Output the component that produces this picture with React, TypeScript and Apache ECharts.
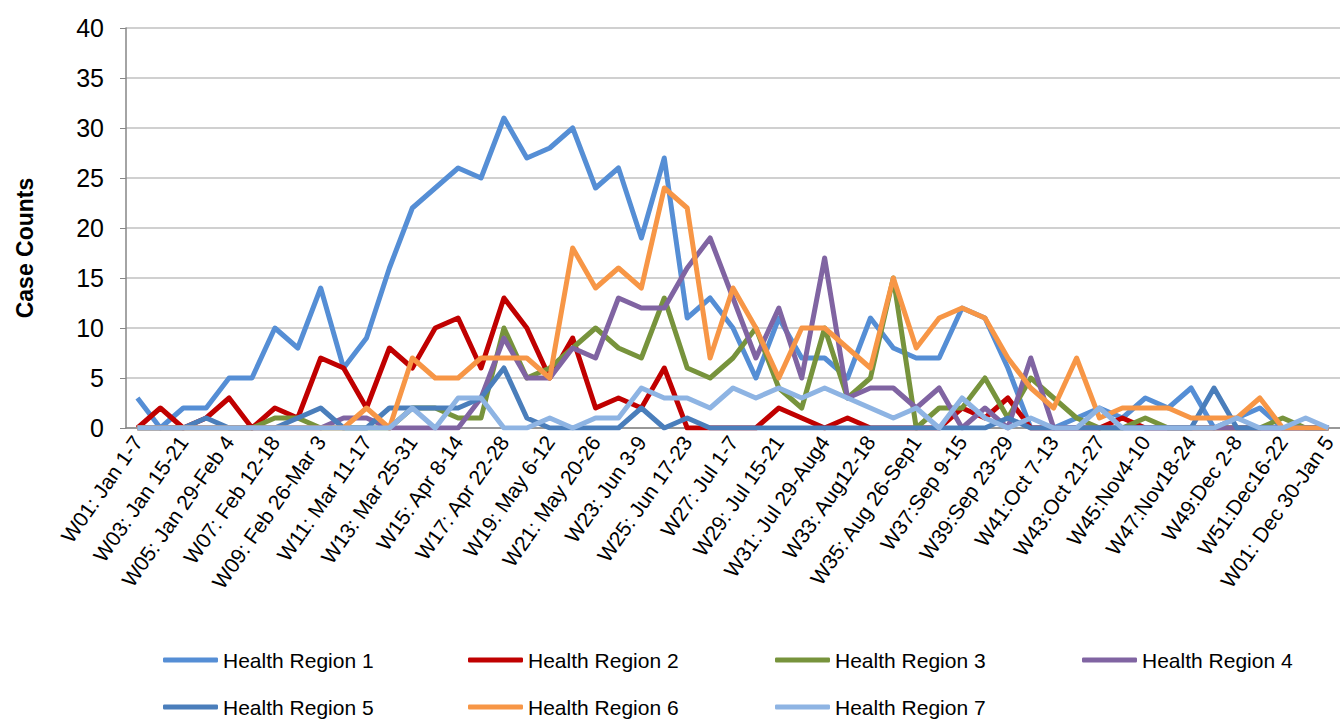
import React, { useEffect, useRef } from "react";
import * as echarts from "echarts";

const weeks = [
  "W01: Jan 1-7", "W02: Jan 8-14", "W03: Jan 15-21", "W04: Jan 22-28", "W05: Jan 29-Feb 4",
  "W06: Feb 5-11", "W07: Feb 12-18", "W08: Feb 19-25", "W09: Feb 26-Mar 3", "W10: Mar 4-10",
  "W11: Mar 11-17", "W12: Mar 18-24", "W13: Mar 25-31", "W14: Apr 1-7", "W15: Apr 8-14",
  "W16: Apr 15-21", "W17: Apr 22-28", "W18: Apr 29-May 5", "W19: May 6-12", "W20: May 13-19",
  "W21: May 20-26", "W22: May 27-Jun 2", "W23: Jun 3-9", "W24: Jun 10-16", "W25: Jun 17-23",
  "W26: Jun 24-30", "W27: Jul 1-7", "W28: Jul 8-14", "W29: Jul 15-21", "W30: Jul 22-28",
  "W31: Jul 29-Aug4", "W32: Aug 5-11", "W33: Aug12-18", "W34: Aug 19-25", "W35: Aug 26-Sep1",
  "W36: Sep 2-8", "W37:Sep 9-15", "W38:Sep 16-22", "W39:Sep 23-29", "W40:Sep 30-Oct 6",
  "W41:Oct 7-13", "W42:Oct 14-20", "W43:Oct 21-27", "W44:Oct 28-Nov3", "W45:Nov4-10",
  "W46:Nov11-17", "W47:Nov18-24", "W48:Nov25-Dec1", "W49:Dec 2-8", "W50:Dec 9-15",
  "W51:Dec16-22", "W52:Dec 23-29", "W01: Dec 30-Jan 5",
];

const region1 = [3, 0, 2, 2, 5, 5, 10, 8, 14, 6, 9, 16, 22, 24, 26, 25, 31, 27, 28, 30, 24, 26, 19, 27, 11, 13, 10, 5, 11, 7, 7, 5, 11, 8, 7, 7, 12, 11, 6, 0, 0, 1, 2, 1, 3, 2, 4, 0, 1, 2, 0, 0, 0];
const region2 = [0, 2, 0, 1, 3, 0, 2, 1, 7, 6, 2, 8, 6, 10, 11, 6, 13, 10, 5, 9, 2, 3, 2, 6, 0, 0, 0, 0, 2, 1, 0, 1, 0, 0, 0, 0, 2, 1, 3, 0, 0, 0, 0, 1, 0, 0, 0, 0, 0, 0, 0, 0, 0];
const region3 = [0, 0, 0, 0, 0, 0, 1, 1, 0, 0, 0, 0, 2, 2, 1, 1, 10, 5, 6, 8, 10, 8, 7, 13, 6, 5, 7, 10, 4, 2, 10, 3, 5, 15, 0, 2, 2, 5, 1, 5, 3, 1, 0, 0, 1, 0, 0, 0, 0, 0, 1, 0, 0];
const region4 = [0, 0, 0, 0, 0, 0, 0, 0, 0, 1, 1, 0, 0, 0, 0, 3, 9, 5, 5, 8, 7, 13, 12, 12, 16, 19, 13, 7, 12, 5, 17, 3, 4, 4, 2, 4, 0, 2, 0, 7, 0, 0, 0, 0, 0, 0, 0, 0, 0, 0, 0, 0, 0];
const region5 = [0, 0, 0, 1, 0, 0, 0, 1, 2, 0, 0, 2, 2, 2, 2, 3, 6, 1, 0, 0, 0, 0, 2, 0, 1, 0, 0, 0, 0, 0, 0, 0, 0, 0, 0, 0, 0, 0, 1, 0, 0, 0, 0, 0, 0, 0, 0, 4, 0, 0, 0, 0, 0];
const region6 = [0, 0, 0, 0, 0, 0, 0, 0, 0, 0, 2, 0, 7, 5, 5, 7, 7, 7, 5, 18, 14, 16, 14, 24, 22, 7, 14, 10, 5, 10, 10, 8, 6, 15, 8, 11, 12, 11, 7, 4, 2, 7, 1, 2, 2, 2, 1, 1, 1, 3, 0, 0, 0];
const region7 = [0, 0, 0, 0, 0, 0, 0, 0, 0, 0, 0, 0, 2, 0, 3, 3, 0, 0, 1, 0, 1, 1, 4, 3, 3, 2, 4, 3, 4, 3, 4, 3, 2, 1, 2, 0, 3, 1, 0, 1, 0, 0, 2, 0, 0, 0, 0, 0, 1, 0, 0, 1, 0];

const seriesNames = [
  "Health Region 1", "Health Region 2", "Health Region 3", "Health Region 4",
  "Health Region 5", "Health Region 6", "Health Region 7",
];
const seriesData = [region1, region2, region3, region4, region5, region6, region7];
const seriesColors = ["#558ED5", "#C00000", "#77933C", "#8064A2", "#4A7EBB", "#F79646", "#8EB4E3"];
const yTicks = { min: 0, max: 40, interval: 5 };
const yTitle = "Case Counts";

const FONT = "'Liberation Sans', Arial, sans-serif";

export default function App() {
  const ref = useRef<HTMLDivElement>(null);
  useEffect(() => {
    if (!ref.current) return;
    const chart = echarts.init(ref.current, undefined, { renderer: "svg" });
    const legendPos = [
      [163, 647], [468, 647], [775, 647], [1082, 647],
      [163, 694], [468, 694], [775, 694],
    ];
    chart.setOption({
      animation: false,
      backgroundColor: "#ffffff",
      textStyle: { fontFamily: FONT },
      grid: { left: 126, right: -16, top: 28, bottom: 291, containLabel: false },
      graphic: [
        {
          type: "text",
          x: 25,
          y: 248,
          rotation: Math.PI / 2,
          style: {
            text: yTitle,
            fontFamily: FONT,
            fontSize: 23,
            fontWeight: "bold",
            fill: "#000",
            align: "center",
            verticalAlign: "middle",
          },
        },
      ],
      legend: seriesNames.map((n, i) => ({
        data: [n],
        left: legendPos[i][0],
        top: legendPos[i][1],
        padding: 0,
        icon: "roundRect",
        itemWidth: 55,
        itemHeight: 5,
        textStyle: { fontFamily: FONT, fontSize: 21, color: "#000", lineHeight: 26 },
      })),
      xAxis: {
        type: "category",
        data: weeks,
        boundaryGap: true,
        axisLine: { lineStyle: { color: "#868686", width: 1.5 } },
        axisTick: { show: false },
        axisLabel: {
          interval: 1,
          rotate: 55,
          fontSize: 21,
          color: "#000",
          fontFamily: FONT,
          margin: 10,
        },
      },
      yAxis: {
        type: "value",
        min: yTicks.min,
        max: yTicks.max,
        interval: yTicks.interval,
        axisLine: { show: true, lineStyle: { color: "#868686", width: 1.5 } },
        axisTick: { show: true, length: 6, lineStyle: { color: "#868686" } },
        axisLabel: { fontSize: 25, color: "#000", fontFamily: FONT, margin: 22 },
        splitLine: { lineStyle: { color: "#C0C0C0", width: 1.5 } },
      },
      series: seriesNames.map((n, i) => ({
        name: n,
        type: "line",
        data: seriesData[i],
        symbol: "none",
        lineStyle: { width: 5, color: seriesColors[i], join: "round" },
        itemStyle: { color: seriesColors[i] },
      })),
    });
    return () => chart.dispose();
  }, []);
  return (
    <div
      ref={ref}
      style={{ position: "fixed", left: 0, top: 0, width: 1340, height: 719 }}
    />
  );
}
